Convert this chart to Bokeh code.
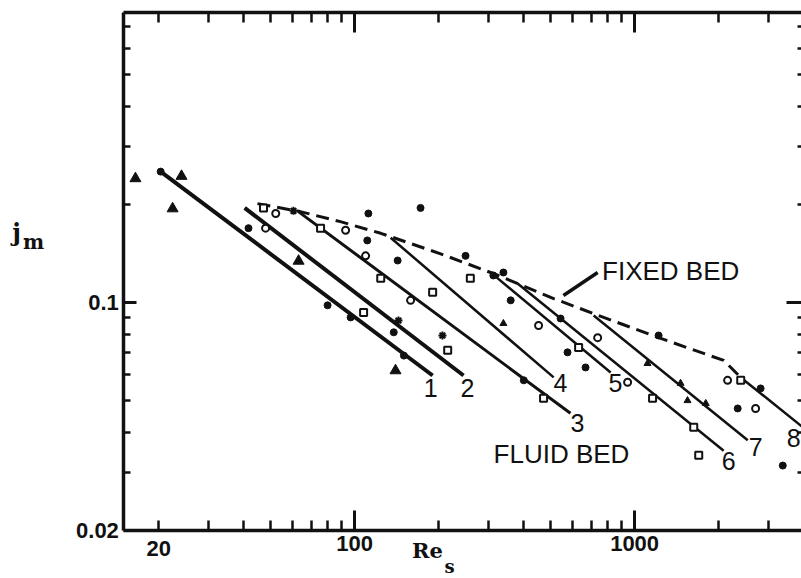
from bokeh.plotting import figure
from bokeh.models import Range1d, FixedTicker, LogAxis, Label, ColumnDataSource
from bokeh.core.properties import value
from bokeh.embed import file_html
from bokeh.resources import INLINE

# ---------------- data ----------------
# fluid-bed correlation lines (start / end points, Re_s and j_m)
line_names = ["1", "2", "3", "4", "5", "6", "7", "8"]
line_re_start = [20.3, 40.5, 63, 134.5, 319, 382, 714, 2393]
line_j_start = [0.252, 0.195, 0.190, 0.158, 0.120, 0.1143, 0.0912, 0.0589]
line_re_end = [190, 245, 590, 514, 821, 2080, 2535, 3950]
line_j_end = [0.0597, 0.0597, 0.0457, 0.0589, 0.0610, 0.0351, 0.0378, 0.0417]

# where each line number is written
label_re = [187, 253, 625, 544, 855, 2168, 2704, 3698]
label_j = [0.0545, 0.0545, 0.0426, 0.0565, 0.0565, 0.0327, 0.0359, 0.0385]

# fixed-bed curve (dashed)
fixed_re = [45, 64, 89, 124, 203, 313, 514, 775, 1239, 2080, 2393]
fixed_j = [0.201, 0.190, 0.177, 0.163, 0.141, 0.1227, 0.1028, 0.0900, 0.0776, 0.0664, 0.0589]

# measured points
tri_re = [16.5, 24.1, 22.4, 63.1, 140]
tri_j = [0.240, 0.244, 0.194, 0.134, 0.0618]

dot_re = [20.3, 41.8, 80.1, 96.8, 150, 402, 112, 172, 111, 142.5, 249, 313, 340,
          361, 544, 576, 668, 1218, 2818, 3381, 2334, 138]
dot_j = [0.252, 0.169, 0.098, 0.090, 0.0687, 0.0577, 0.1875, 0.195, 0.155, 0.1345,
         0.139, 0.121, 0.1236, 0.1015, 0.0893, 0.0703, 0.0632, 0.0792, 0.0545,
         0.0316, 0.0473, 0.081]

ocirc_re = [48.1, 52.3, 92.9, 109.5, 158.5, 454, 738, 2148, 2704, 944]
ocirc_j = [0.169, 0.1875, 0.1665, 0.139, 0.1015, 0.085, 0.078, 0.0577, 0.0473, 0.0569]

osq_re = [124, 190, 259, 473, 631, 1159, 1626, 1694, 2393, 107.7, 215, 47.3, 75.6]
osq_j = [0.1186, 0.1074, 0.1186, 0.0508, 0.0727, 0.0508, 0.0414, 0.034, 0.0577,
         0.0932, 0.0713, 0.195, 0.169]

stri_re = [1112, 1459, 1795, 1545, 340]
stri_j = [0.065, 0.0565, 0.049, 0.050, 0.0862]

ast_re = [206, 143.5, 60.5]
ast_j = [0.0792, 0.088, 0.191]

# pointer from the "FIXED BED" caption to its curve
leader_re = [557, 738]
leader_j = [0.105, 0.1236]

# axis box and ticks
re_lo, re_hi = 15, 3944
j_lo, j_hi = 0.02, 0.7776
x_major = [100, 1000]
x_minor = [20, 30, 40, 50, 60, 70, 80, 90, 200, 300, 400, 500, 600, 700, 800, 900, 2000, 3000]
y_major = [0.02, 0.1]
y_minor = [0.03, 0.04, 0.05, 0.06, 0.07, 0.08, 0.09, 0.2, 0.3, 0.4, 0.5, 0.6, 0.7]

# ---------------- figure ----------------
# the frame fills the page; the axes are pinned around the box with fixed_location
p = figure(width=801, height=578, x_axis_type="log", y_axis_type="log",
           x_range=Range1d(5.44, 3944), y_range=Range1d(0.01423, 0.844),
           output_backend="svg", toolbar_location=None, min_border=0)
p.outline_line_color = None
p.grid.visible = False
p.background_fill_color = "white"
p.border_fill_color = "white"

ink = "#111111"
tick_font = "Liberation Sans"


def style_axis(ax, labels=True):
    ax.axis_line_width = 3.5
    ax.axis_line_color = ink
    ax.major_tick_in = 20
    ax.major_tick_out = 0
    ax.minor_tick_in = 10
    ax.minor_tick_out = 0
    ax.major_tick_line_width = 3
    ax.minor_tick_line_width = 2.5
    ax.major_tick_line_color = ink
    ax.minor_tick_line_color = ink
    ax.major_label_text_font = tick_font
    ax.major_label_text_font_style = "bold"
    ax.major_label_text_font_size = "22px"
    ax.major_label_text_color = ink if labels else None


xb = p.xaxis[0]
xb.ticker = FixedTicker(ticks=x_major, minor_ticks=x_minor)
xb.major_label_overrides = {100: "100", 1000: "1000"}
xb.fixed_location = j_lo
xb.bounds = (re_lo, re_hi)
style_axis(xb)
xb.major_label_standoff = 6

yl = p.yaxis[0]
yl.ticker = FixedTicker(ticks=y_major, minor_ticks=y_minor)
yl.major_label_overrides = {0.02: "0.02", 0.1: "0.1"}
yl.fixed_location = re_lo
yl.bounds = (j_lo, j_hi)
style_axis(yl)
yl.major_tick_in = 13
yl.minor_tick_in = 7
yl.major_label_standoff = 5

xt = LogAxis(ticker=FixedTicker(ticks=x_major, minor_ticks=x_minor),
             major_label_overrides={100: "", 1000: ""},
             fixed_location=j_hi, bounds=(re_lo, re_hi))
style_axis(xt, labels=False)
p.add_layout(xt, "above")

yr = LogAxis(ticker=FixedTicker(ticks=y_major, minor_ticks=y_minor),
             major_label_overrides={0.02: "", 0.1: ""},
             fixed_location=re_hi, bounds=(j_lo, j_hi))
style_axis(yr, labels=False)
yr.axis_line_color = None
yr.major_tick_in = 15
yr.minor_tick_in = 4
p.add_layout(yr, "right")

# fluid-bed lines
widths = [4, 4, 3, 2.5, 2.5, 2.5, 2.5, 2.5]
lines = ColumnDataSource(dict(
    xs=[[a, b] for a, b in zip(line_re_start, line_re_end)],
    ys=[[a, b] for a, b in zip(line_j_start, line_j_end)],
    w=widths,
))
p.multi_line(xs="xs", ys="ys", line_width="w", line_color=ink, source=lines)

# fixed-bed curve
p.line(fixed_re, fixed_j, line_width=3, line_color=ink, line_dash="13 7")
p.line(leader_re, leader_j, line_width=3.5, line_color=ink)

# measured points
p.scatter(tri_re, tri_j, marker="triangle", size=11, fill_color=ink, line_color=ink)
p.scatter(dot_re, dot_j, marker="circle", size=7, fill_color=ink, line_color=ink)
p.scatter(ocirc_re, ocirc_j, marker="circle", size=7, fill_color="white",
          line_color=ink, line_width=2)
p.scatter(osq_re, osq_j, marker="square", size=7, fill_color="white",
          line_color=ink, line_width=2)
p.scatter(stri_re, stri_j, marker="triangle", size=7, fill_color=ink, line_color=ink)
p.scatter(ast_re, ast_j, marker="asterisk", size=8, line_color=ink, line_width=2)

# line numbers and captions
p.text(x=label_re, y=label_j, text=line_names, text_font=value("Liberation Sans"),
       text_font_size="25px", text_align="center", text_baseline="middle",
       text_color=ink)
p.text(x=[1345, 548], y=[0.1245, 0.0344], text=["FIXED BED", "FLUID BED"],
       text_font=value("Liberation Sans"), text_font_size="26px",
       text_align="center", text_baseline="middle", text_color=ink)

# tick label for 20 (its tick is a minor one)
p.add_layout(Label(x=20, y=30, x_units="data", y_units="screen", text="20",
                   text_align="center", text_baseline="middle", text_font=tick_font,
                   text_font_style="bold", text_font_size="22px", text_color=ink))

# axis titles with subscripts (page pixels from the bottom-left corner)
serif = "DejaVu Serif"
for txt, sx, sy, size in [("Re", 427, 28, "21px"), ("s", 449, 12, "18px"),
                          ("j", 16, 346, "24px"), ("m", 33, 337, "20px")]:
    p.add_layout(Label(x=sx, y=sy, x_units="screen", y_units="screen", text=txt,
                       text_align="center", text_baseline="middle", text_font=serif,
                       text_font_style="bold", text_font_size=size, text_color=ink))

open("out.html", "w").write(file_html(p, INLINE))
